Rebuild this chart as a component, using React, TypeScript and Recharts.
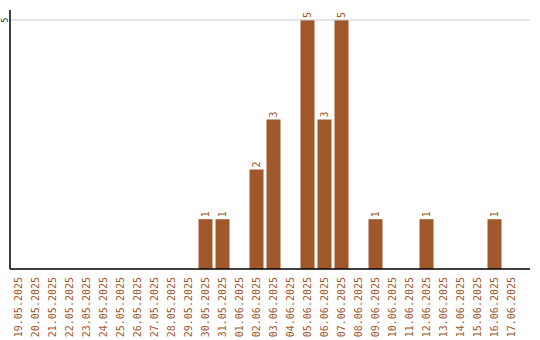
import React from "react";
import { BarChart, Bar, XAxis, YAxis, ReferenceLine, LabelList } from "recharts";

const categories = [
  "19.05.2025", "20.05.2025", "21.05.2025", "22.05.2025", "23.05.2025",
  "24.05.2025", "25.05.2025", "26.05.2025", "27.05.2025", "28.05.2025",
  "29.05.2025", "30.05.2025", "31.05.2025", "01.06.2025", "02.06.2025",
  "03.06.2025", "04.06.2025", "05.06.2025", "06.06.2025", "07.06.2025",
  "08.06.2025", "09.06.2025", "10.06.2025", "11.06.2025", "12.06.2025",
  "13.06.2025", "14.06.2025", "15.06.2025", "16.06.2025", "17.06.2025",
];
const values = [
  0, 0, 0, 0, 0,
  0, 0, 0, 0, 0,
  0, 1, 1, 0, 2,
  3, 0, 5, 3, 5,
  0, 1, 0, 0, 1,
  0, 0, 0, 1, 0,
];
const yTicks = [5];

const data = categories.map((c, i) => ({ date: c, value: values[i] }));

const COLOR = "#A0572A";
const FONT = "'DejaVu Sans Mono', monospace";

const XTick = (props: any) => {
  const { x, y, payload } = props;
  return (
    <text
      x={x}
      y={y}
      transform={`rotate(-90, ${x}, ${y})`}
      textAnchor="end"
      dy="0.35em"
      fill={COLOR}
      fontSize={10}
      fontFamily={FONT}
    >
      {payload.value}
    </text>
  );
};

const YTick = (props: any) => {
  const { y, payload } = props;
  const x = 5;
  return (
    <text
      x={x}
      y={y}
      transform={`rotate(-90, ${x}, ${y})`}
      textAnchor="middle"
      dy="0.35em"
      fill="#222"
      fontSize={8}
      fontFamily={FONT}
    >
      {payload.value}
    </text>
  );
};

const ValueLabel = (props: any) => {
  const { x, y, width, value } = props;
  if (!value) return null;
  const cx = x + width / 2;
  const cy = y - 2;
  return (
    <text
      x={cx}
      y={cy}
      transform={`rotate(-90, ${cx}, ${cy})`}
      textAnchor="start"
      dy="0.35em"
      fill={COLOR}
      fontSize={10}
      fontFamily={FONT}
    >
      {value}
    </text>
  );
};

export default function App() {
  return (
    <div style={{ position: "absolute", left: 0, top: 0, background: "#fff" }}>
      <BarChart
        width={540}
        height={340}
        data={data}
        margin={{ top: 10, right: 10, left: 0, bottom: 0 }}
        barCategoryGap={1.5}
      >
        <ReferenceLine y={yTicks[0]} stroke="#cccccc" ifOverflow="extendDomain" />
        <XAxis
          dataKey="date"
          interval={0}
          height={71}
          tickLine={false}
          axisLine={{ stroke: "#000", strokeWidth: 1.5 }}
          tick={<XTick />}
          padding={{ left: 0, right: 10 }}
        />
        <YAxis
          width={10}
          domain={[0, 5.2]}
          ticks={yTicks}
          tickLine={false}
          axisLine={{ stroke: "#000", strokeWidth: 1.5 }}
          tick={<YTick />}
        />
        <Bar dataKey="value" fill={COLOR} isAnimationActive={false}>
          <LabelList dataKey="value" content={<ValueLabel />} />
        </Bar>
      </BarChart>
    </div>
  );
}
